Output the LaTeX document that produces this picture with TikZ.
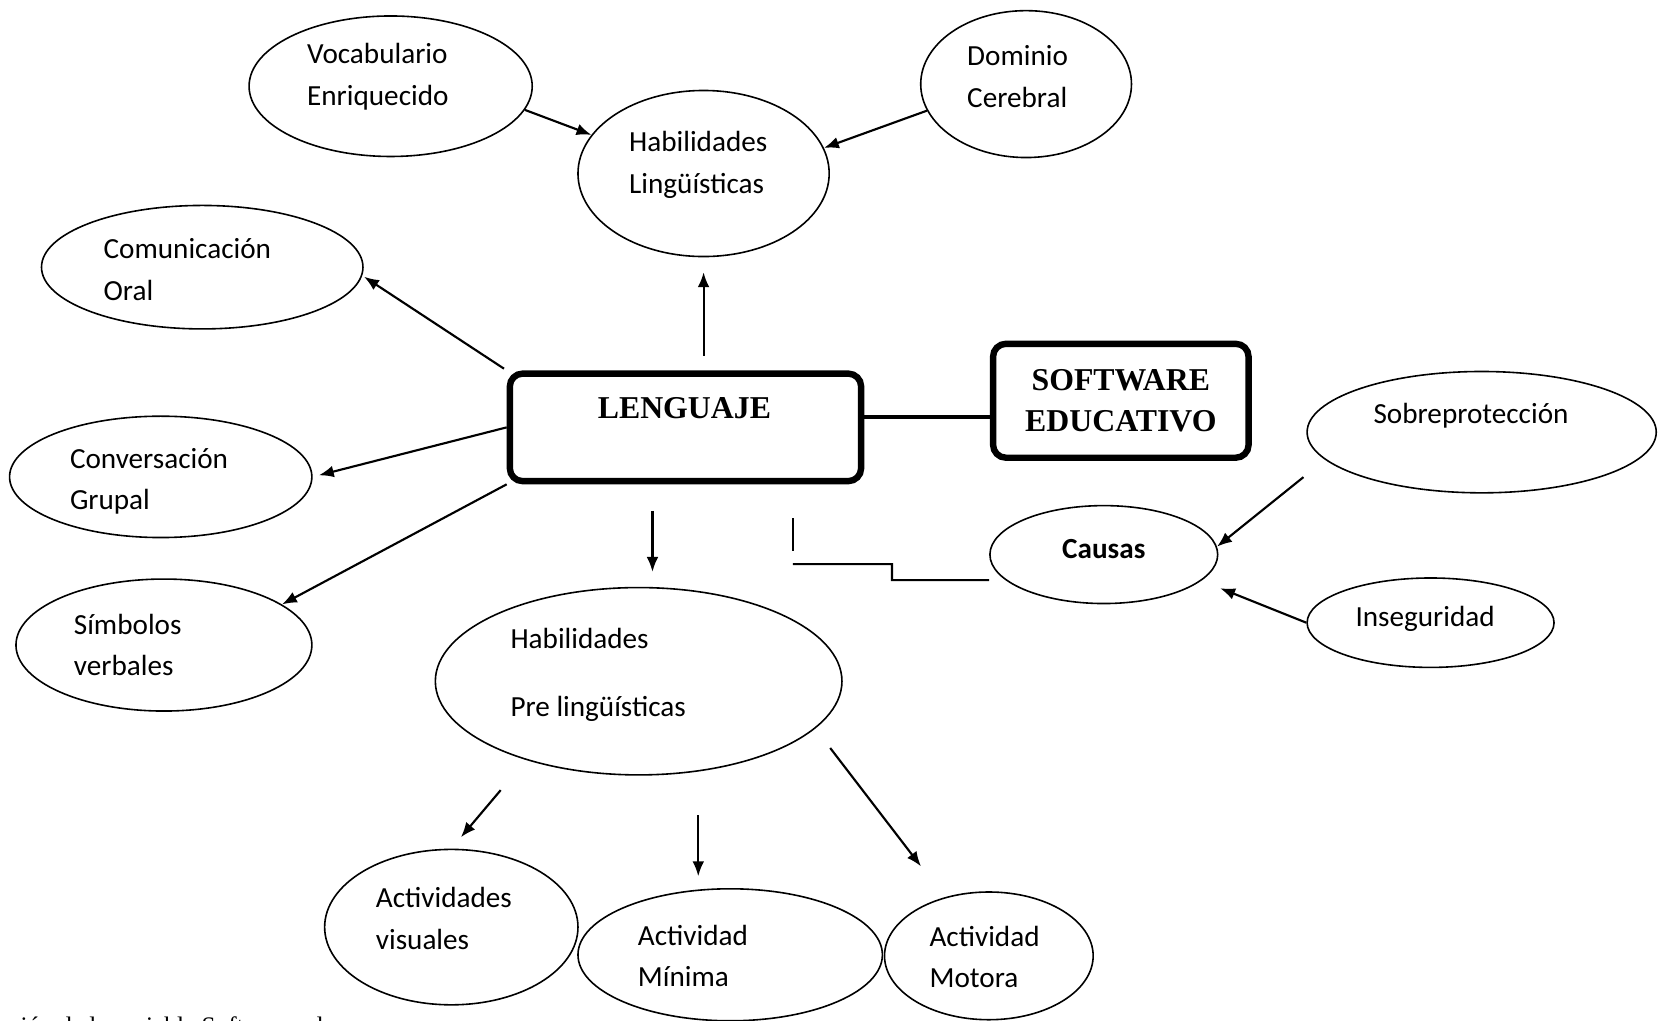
\documentclass[tikz,border=0pt]{standalone}
\usepackage{fontspec}
\setmainfont{Liberation Serif}
\newfontfamily\calib{Carlito}
\usepackage{tikz}
\usetikzlibrary{shapes,arrows.meta,positioning}

\tikzset{
  oval/.style={draw, ellipse, line width=0.3mm, inner sep=0pt},
  txt/.style={align=left, inner sep=0pt, font=\calib\fontsize{15.6}{22.2}\selectfont},
  mainbox/.style={draw, rounded corners=2.4mm, line width=1.2mm, inner sep=0pt,
    align=center, font=\bfseries\fontsize{17}{22.2}\selectfont},
  arr/.style={-{Latex[length=2.8mm,width=2.2mm]}, line width=0.4mm},
  plain/.style={line width=0.4mm}
}

\begin{document}
\begin{tikzpicture}[x=0.2mm,y=-0.2mm]
\useasboundingbox (0,0) rectangle (1568,959);

% Central boxes
\node[mainbox, minimum width=66mm, minimum height=20.2mm] (lang) at (644,401.5) {};
\node[inner sep=0pt, font=\bfseries\fontsize{17}{22.2}\selectfont] (lang-t) at (643,383) {LENGUAJE};
\node[mainbox, minimum width=48mm, minimum height=21.4mm] (sw) at (1053,376.5) {SOFTWARE\\EDUCATIVO};

% Ellipses with their texts
\foreach \nm/\cx/\cy/\w/\h/\tx/\ty/\txt in {
  voc/367/81/53.2/26.4/355/72/{Vocabulario\\Enriquecido},
  dom/964/79/39.6/27.6/956/72/{Dominio\\Cerebral},
  hl/661/163/47.2/31.2/656/155/{Habilidades\\Lingüísticas},
  com/190/251/60.4/23.2/176/253/{Comunicación\\Oral},
  conv/151/448/56.8/22.8/140/452/{Conversación\\Grupal},
  sym/154/606/55.6/24.8/120/606/{Símbolos\\verbales},
  hp/600/640/76.4/35.2/562/634/{Habilidades\\[5mm]Pre lingüísticas},
  vis/424/871/47.6/29.2/417/863/{Actividades\\visuales},
  min/686/897/57.2/24.8/651/898/{Actividad\\Mínima},
  mot/929/898/39.2/24/925/899/{Actividad\\Motora},
  cau/1037/521/42.8/18.4/1037/516/{\textbf{Causas}},
  sob/1392/406/65.6/22.8/1382/391/{Sobreprotección},
  ins/1344/585/46.4/16.8/1342/581/{Inseguridad}
} {
  \node[oval, minimum width=\w mm, minimum height=\h mm] (\nm) at (\cx,\cy) {};
  \node[txt] (\nm-t) at (\tx,\ty) {\txt};
}

% Arrows to Habilidades Linguisticas
\draw[arr] (voc.-10) -- (hl.161);
\draw[arr] (dom.195) -- (hl.12);
\draw[arr, shorten <=2.8mm, shorten >=2.8mm] (lang.north -| hl.south) -- (hl.south);

% Arrows from Lenguaje
\draw[arr, shorten <=0.6mm, shorten >=0.4mm] (lang.north west) -- (com.-3);
\draw[arr, shorten >=1.2mm] (lang.west) -- (conv.east);
\draw[arr] (lang.south west) -- (sym.19);
\draw[arr, shorten <=5mm, shorten >=2.8mm] ([xshift=-6.2mm]lang.south) -- ([xshift=-6.2mm]lang.south |- hp.north);

% Arrows from Habilidades Pre linguisticas
\draw[arr, shorten <=7.4mm, shorten >=2.8mm] (hp.215) -- (vis.north);
\draw[arr, shorten <=7.4mm, shorten >=2.2mm] ([xshift=11.2mm]hp.south) -- ([xshift=11.2mm]hp.south |- min.north);
\draw[arr, shorten <=4.6mm, shorten >=7.3mm] (hp.-15) -- (mot.127);

% Causas
\draw[arr, shorten <=5.2mm] (sob.190) -- (cau.4);
\draw[arr, shorten >=3.8mm] (ins.west) -- (cau.-15);

% Link lines
\draw[line width=0.8mm] ([yshift=1.9mm]lang.east) -- ([yshift=1.9mm]lang.east -| sw.west);
\coordinate (tickA) at (745,487);
\coordinate (tickB) at (745,518);
\coordinate (stepA) at (745,530);
\draw[plain] (tickA) -- (tickB);
\draw[plain] (stepA) -- ++(93,0) -- ++(0,15) -- ([yshift=-4.8mm]cau.west);

% Caption (cut by the page edge)
\node[anchor=base west, inner sep=0pt, font=\fontsize{13.5}{16}\selectfont] (cap) at (-2,972) {ación de la variable Software edu};
\end{tikzpicture}
\end{document}
